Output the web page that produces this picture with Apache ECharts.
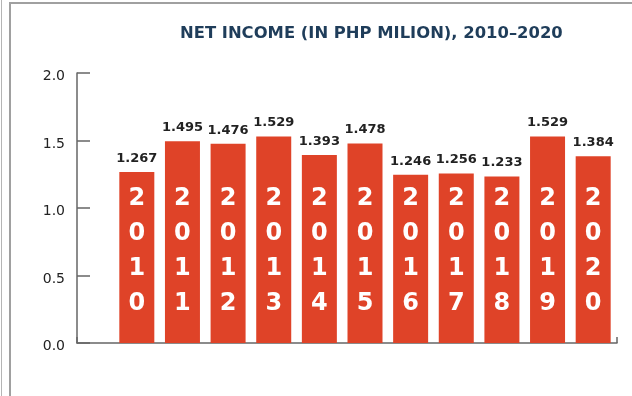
<!DOCTYPE html>
<html>
<head>
<meta charset="utf-8">
<script src="https://cdn.jsdelivr.net/npm/echarts@6/dist/echarts.min.js"></script>
<style>
  html, body { margin: 0; padding: 0; background: #fff; }
  #wrap { position: relative; width: 632px; height: 396px; overflow: hidden; }
  #edge { position: absolute; left: 1px; top: 0; bottom: 0; border-left: 1px solid #b5b5b5; }
  #frame { position: absolute; left: 9px; top: 2px; width: 640px; height: 400px;
           border-left: 2px solid #a0a0a0; border-top: 2px solid #a0a0a0; }
  #chart { position: absolute; left: 0; top: 0; width: 632px; height: 396px; }
</style>
</head>
<body>
<div id="wrap">
  <div id="edge"></div>
  <div id="frame"></div>
  <div id="chart"></div>
</div>
<script>
  const titleText = 'NET INCOME (IN PHP MILION), 2010–2020';
  const years = ['2010', '2011', '2012', '2013', '2014', '2015', '2016', '2017', '2018', '2019', '2020'];
  const netIncome = [1.267, 1.495, 1.476, 1.529, 1.393, 1.478, 1.246, 1.256, 1.233, 1.529, 1.384];
  const yTicks = [0, 0.5, 1.0, 1.5, 2.0];

  const chart = echarts.init(document.getElementById('chart'));
  const font = 'DejaVu Sans';

  chart.setOption({
    animation: false,
    title: {
      text: titleText,
      left: 175,
      top: 21,
      textStyle: { fontFamily: font, fontSize: 16.4, fontWeight: 'bold', color: '#1f3d5a' }
    },
    grid: [
      { left: 77, right: 15, top: 73, bottom: 53 },
      { left: 114, right: 16, top: 73, bottom: 53 }
    ],
    xAxis: [
      {
        // frame axis: only draws the baseline from the y axis to the right end
        gridIndex: 0, type: 'value', min: 0, max: 1, interval: 1,
        axisLine: { show: true, lineStyle: { color: '#666', width: 1.5 } },
        axisTick: { show: true, inside: true, length: 6, lineStyle: { color: '#666', width: 1.5 } },
        axisLabel: { show: false },
        splitLine: { show: false }
      },
      {
        gridIndex: 1, type: 'category', data: years,
        axisLine: { show: false }, axisTick: { show: false }, axisLabel: { show: false }
      }
    ],
    yAxis: [
      {
        gridIndex: 0, type: 'value', min: yTicks[0], max: yTicks[yTicks.length - 1], interval: 0.5,
        axisLine: { show: true, lineStyle: { color: '#666', width: 1.5 } },
        axisTick: { show: true, inside: true, length: 13, lineStyle: { color: '#666', width: 1.5 } },
        axisLabel: {
          fontFamily: font, fontSize: 14, color: '#222', margin: 12,
          verticalAlign: 'top', lineHeight: 7,
          formatter: v => v.toFixed(1)
        },
        splitLine: { show: false }
      },
      {
        gridIndex: 1, type: 'value', min: yTicks[0], max: yTicks[yTicks.length - 1],
        show: false
      }
    ],
    series: [
      {
        type: 'bar', xAxisIndex: 1, yAxisIndex: 1, data: netIncome,
        barWidth: 35,
        itemStyle: { color: '#df4328' },
        label: {
          show: true, position: 'insideBottom', distance: 22,
          formatter: p => p.name.split('').join('\n'),
          fontFamily: font, fontSize: 24, fontWeight: 'bold', lineHeight: 35, color: '#fff'
        }
      },
      {
        type: 'bar', xAxisIndex: 1, yAxisIndex: 1, data: netIncome,
        barWidth: 35, barGap: '-100%',
        itemStyle: { color: 'transparent' },
        label: {
          show: true, position: 'top', distance: 7,
          formatter: p => p.value.toFixed(3),
          fontFamily: font, fontSize: 13, fontWeight: 'bold', color: '#222'
        }
      }
    ]
  });
</script>
</body>
</html>
